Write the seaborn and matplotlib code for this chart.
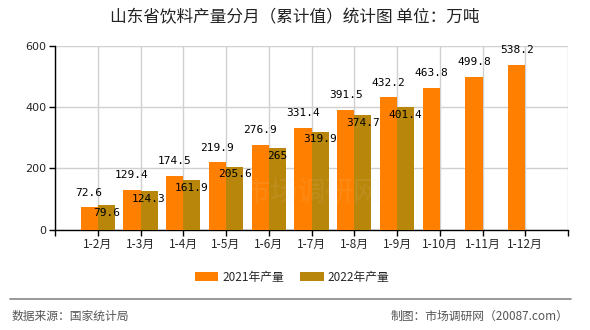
import numpy as np
import pandas as pd
import matplotlib
matplotlib.use("Agg")
import matplotlib.pyplot as plt
import seaborn as sns
from matplotlib.patches import Patch
from matplotlib.lines import Line2D

# Monthly cumulative beverage output, Shandong (10k tonnes)
months = ["1-2月", "1-3月", "1-4月", "1-5月", "1-6月", "1-7月",
          "1-8月", "1-9月", "1-10月", "1-11月", "1-12月"]
output_2021 = [72.6, 129.4, 174.5, 219.9, 276.9, 331.4, 391.5, 432.2, 463.8, 499.8, 538.2]
output_2022 = [79.6, 124.3, 161.9, 205.6, 265, 319.9, 374.7, 401.4, np.nan, np.nan, np.nan]
series_names = ["2021年产量", "2022年产量"]
y_ticks = [0, 200, 400, 600]

title = "山东省饮料产量分月（累计值）统计图 单位：万吨"
source_text = "数据来源：国家统计局"
maker_text = "制图：市场调研网（20087.com）"

colors = ["#FF8000", "#B8860B"]
cjk = ["Noto Sans CJK SC", "DejaVu Sans"]

df = pd.DataFrame({
    "month": months * 2,
    "value": output_2021 + output_2022,
    "series": [series_names[0]] * len(months) + [series_names[1]] * len(months),
})

sns.set_theme(style="white")
plt.rcParams["font.family"] = cjk

fig = plt.figure(figsize=(5.9, 3.3), dpi=100)
ax = fig.add_axes([55 / 590, 1 - 229.5 / 330, (568 - 55) / 590, (229.5 - 46) / 330])

sns.barplot(data=df, x="month", y="value", hue="series", order=months,
            hue_order=series_names, palette=colors, width=0.8, saturation=1,
            errorbar=None, legend=False, ax=ax, zorder=3,
            linewidth=0, edgecolor="none")

ax.set_xlim(-1, len(months))
ax.set_ylim(0, 600)
ax.set_yticks(y_ticks)
ax.set_yticklabels([str(t) for t in y_ticks], fontsize=8, family="DejaVu Sans")
ax.set_xticks(np.arange(-1, len(months) + 1))
ax.set_xticklabels([""] + months + [""], fontsize=8.5)
ax.set_xlabel("")
ax.set_ylabel("")

ax.grid(True, color="#d0d0d0", linewidth=1, zorder=0)
ax.set_axisbelow(True)
for side in ["top", "right"]:
    ax.spines[side].set_visible(False)
for side in ["left", "bottom"]:
    ax.spines[side].set_color("black")
    ax.spines[side].set_linewidth(1)
ax.tick_params(axis="both", which="both", direction="out", length=4, width=1,
               color="black", bottom=True, left=True, pad=2)

# Value labels: 2021 above each bar, 2022 just inside the top
label_font = dict(family="DejaVu Sans Mono", fontsize=8, color="black", zorder=5)
for idx, container in enumerate(ax.containers):
    for bar in container:
        h = bar.get_height()
        if np.isnan(h):
            continue
        x = bar.get_x() + bar.get_width() / 2
        txt = f"{h:g}"
        if idx == 0:
            ax.annotate(txt, (x, h), xytext=(0, 7), textcoords="offset points",
                        ha="center", va="bottom", **label_font)
        else:
            ax.annotate(txt, (x, h), xytext=(0, -2), textcoords="offset points",
                        ha="center", va="top", **label_font)

# Very faint watermark
ax.text(0.5, 0.2, "市场调研网", transform=ax.transAxes, ha="center", va="center",
        fontsize=20, color="#f0e0cc", alpha=0.09, zorder=4)

fig.text(295 / 590, 1 - 18 / 330, title, ha="center", va="center",
         fontsize=12, color="#222222")

handles = [Patch(facecolor=c, edgecolor="none") for c in colors]
fig.legend(handles, series_names, loc="center", bbox_to_anchor=(292 / 590, 1 - 277 / 330),
           ncol=2, frameon=False, fontsize=8.5, handlelength=2.0, handleheight=0.7,
           handletextpad=0.3, columnspacing=1.4)

fig.add_artist(Line2D([10 / 590, 571 / 590], [1 - 298.5 / 330] * 2,
                      color="#888888", linewidth=1.2, transform=fig.transFigure))
fig.text(12 / 590, 1 - 316 / 330, source_text, ha="left", va="center",
         fontsize=8.5, color="#555555")
fig.text(568 / 590, 1 - 316 / 330, maker_text, ha="right", va="center",
         fontsize=8.5, color="#555555")

fig.savefig("out.png", dpi=100)
